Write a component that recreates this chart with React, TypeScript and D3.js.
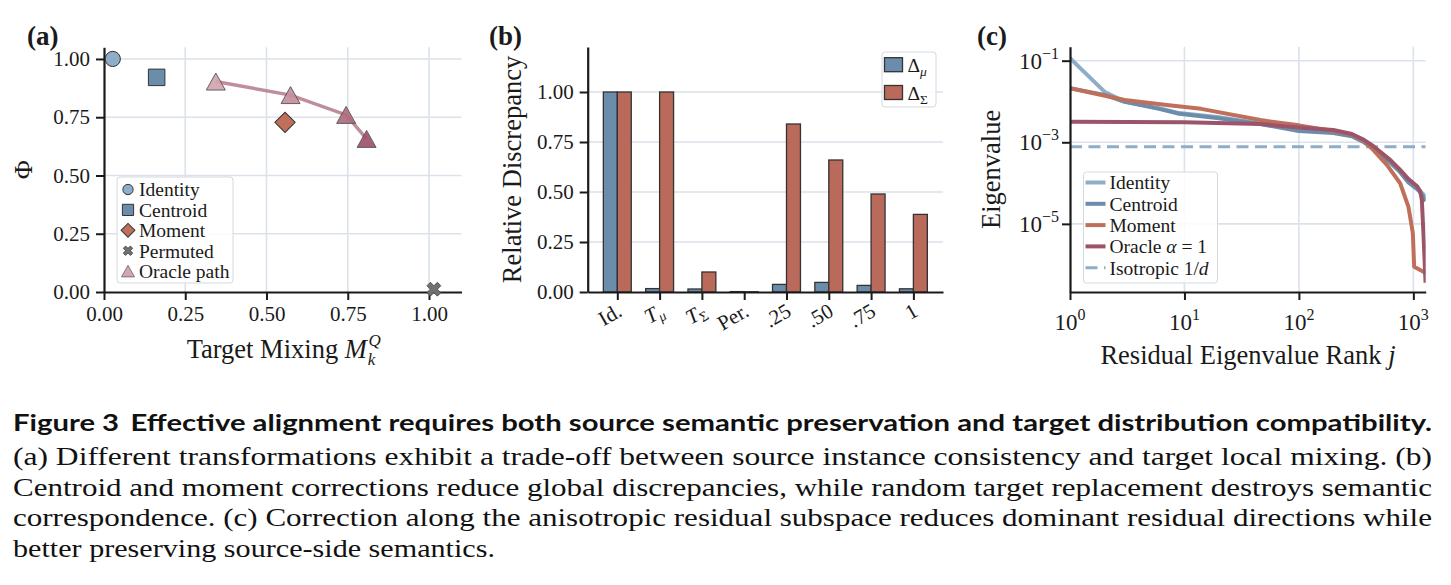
import React, { useEffect, useRef } from 'react';
import * as d3 from 'd3';

const SERIF = '"Liberation Serif", "Times New Roman", Times, serif';
const SANS = 'Lato, "Noto Sans", sans-serif';
const INK = '#1a1a1a';
const GRID = '#dbe2eb';

// (a) source consistency vs. target mixing
const pointNames = ['Identity', 'Centroid', 'Moment', 'Permuted'];
const pointMix = [0.027, 0.162, 0.557, 1.015];
const pointPhi = [1.0, 0.921, 0.728, 0.012];
const oracleMix = [0.344, 0.574, 0.745, 0.808];
const oraclePhi = [0.903, 0.845, 0.76, 0.657];
const tradeTicks = [0, 0.25, 0.5, 0.75, 1.0];

// (b) relative discrepancy per transformation
const barLabels = ['Id.', 'Tμ', 'TΣ', 'Per.', '.25', '.50', '.75', '1'];
const deltaMu = [1.0, 0.017, 0.015, 0.002, 0.038, 0.048, 0.033, 0.016];
const deltaSigma = [1.0, 1.0, 0.1, 0.001, 0.84, 0.66, 0.49, 0.388];
const discTicks = [0, 0.25, 0.5, 0.75, 1.0];

// (c) residual eigenvalue spectra
const identityRank = [1, 2, 3, 6, 9, 20, 46, 100, 200, 290, 370, 448, 627, 767, 906, 1073, 1146, 1282];
const identityEig = [0.115, 0.0174, 0.01, 0.0068, 0.0052, 0.0041, 0.0029, 0.002, 0.00175, 0.00145, 0.00105, 0.00072, 0.00034, 0.00019, 0.000108, 0.000076, 0.000063, 0.000046];
const centroidRank = [1, 2, 3, 6, 9, 20, 46, 100, 200, 290, 370, 448, 627, 767, 906, 1073, 1146, 1282];
const centroidEig = [0.0212, 0.0145, 0.0098, 0.0066, 0.005, 0.0039, 0.0028, 0.0019, 0.00168, 0.0014, 0.001, 0.0007, 0.00032, 0.000185, 0.000104, 0.000072, 0.00006, 0.000036];
const momentRank = [1, 3, 7, 14, 46, 100, 200, 290, 370, 448, 587, 767, 906, 990, 1016, 1225, 1282];
const momentEig = [0.0211, 0.0109, 0.0082, 0.0066, 0.0035, 0.0026, 0.0019, 0.00155, 0.00108, 0.00064, 0.00028, 0.000099, 0.000026, 0.0000059, 0.00000089, 0.00000067, 0.00000062];
const oracleRank = [1, 10, 46, 100, 200, 290, 370, 448, 627, 767, 906, 1073, 1146, 1186, 1225, 1278];
const oracleEig = [0.0032, 0.0031, 0.0028, 0.0023, 0.002, 0.0016, 0.00115, 0.0008, 0.00037, 0.00021, 0.000125, 0.000085, 0.000064, 0.000039, 0.0000059, 0.00000036];
const isotropicLevel = 1 / 1280;
const rankTicks = [1, 10, 100, 1000];
const eigTicks = [1e-1, 1e-3, 1e-5];

const captionTitle = 'Effective alignment requires both source semantic preservation and target distribution compatibility.';
const captionLines = [
  '(a) Different transformations exhibit a trade-off between source instance consistency and target local mixing. (b)',
  'Centroid and moment corrections reduce global discrepancies, while random target replacement destroys semantic',
  'correspondence. (c) Correction along the anisotropic residual subspace reduces dominant residual directions while',
  'better preserving source-side semantics.',
];

type Sel = d3.Selection<SVGGElement, unknown, null, undefined>;

function styleAxis(g: Sel, size: number) {
  g.attr('font-family', SERIF).attr('font-size', size);
  g.select('.domain').attr('stroke', INK).attr('stroke-width', 2.2);
  g.selectAll('.tick line').attr('stroke', INK).attr('stroke-width', 2);
  g.selectAll('.tick text').attr('fill', INK);
}

const triPath = (cx: number, cy: number, hw: number, hh: number) =>
  `M${cx},${cy - hh}L${cx + hw},${cy + hh}L${cx - hw},${cy + hh}Z`;

export default function App() {
  const ref = useRef<SVGSVGElement>(null);

  useEffect(() => {
    if (!ref.current) return;
    const svg = d3.select(ref.current);
    svg.selectAll('*').remove();

    svg.append('rect').attr('width', 1451).attr('height', 585).attr('fill', '#fff');

    const panelLabel = (x: number, s: string) =>
      svg.append('text').attr('x', x).attr('y', 45).attr('font-family', SERIF)
        .attr('font-weight', 700).attr('font-size', 27).attr('fill', INK).text(s);

    // ---------- (a) ----------
    const xA = d3.scaleLinear().domain([0, 1.1]).range([104, 461.5]);
    const yA = d3.scaleLinear().domain([0, 1.05]).range([292, 47.3]);
    const a = svg.append('g');

    a.append('g').selectAll('line').data(tradeTicks.slice(1)).join('line')
      .attr('x1', d => xA(d)).attr('x2', d => xA(d))
      .attr('y1', yA(0)).attr('y2', yA(1.05))
      .attr('stroke', GRID).attr('stroke-width', 1.6);
    a.append('g').selectAll('line').data(tradeTicks.slice(1)).join('line')
      .attr('x1', xA(0)).attr('x2', xA(1.1))
      .attr('y1', d => yA(d)).attr('y2', d => yA(d))
      .attr('stroke', GRID).attr('stroke-width', 1.6);

    const axA = a.append('g').attr('transform', `translate(0,${yA(0)})`)
      .call(d3.axisBottom(xA).tickValues(tradeTicks).tickFormat(d3.format('.2f'))
        .tickSize(8).tickPadding(6).tickSizeOuter(0));
    styleAxis(axA, 21);
    const ayA = a.append('g').attr('transform', `translate(${xA(0)},0)`)
      .call(d3.axisLeft(yA).tickValues(tradeTicks).tickFormat(d3.format('.2f'))
        .tickSize(8).tickPadding(6).tickSizeOuter(0));
    styleAxis(ayA, 21);

    // oracle path
    const idx = d3.range(oracleMix.length);
    a.append('path')
      .attr('d', d3.line<number>().x(i => xA(oracleMix[i])).y(i => yA(oraclePhi[i]))(idx))
      .attr('fill', 'none').attr('stroke', '#b47a8a').attr('stroke-width', 3.5)
      .attr('stroke-opacity', 0.85);
    const triFill = ['#d3a6b1', '#c48f9c', '#b06c7c', '#a0526a'];
    a.append('g').selectAll('path').data(idx).join('path')
      .attr('d', i => triPath(xA(oracleMix[i]), yA(oraclePhi[i]), 9.5, 8.5))
      .attr('fill', i => triFill[i]).attr('fill-opacity', 0.92)
      .attr('stroke', '#555').attr('stroke-width', 0.9);

    // single-transform markers
    const markerColor = ['#8fadc6', '#6b8cab', '#c0705a', '#707070'];
    const drawMarker = (g: Sel, kind: number, cx: number, cy: number, s: number) => {
      if (kind === 0) {
        g.append('circle').attr('cx', cx).attr('cy', cy).attr('r', 7.6 * s)
          .attr('fill', markerColor[0]).attr('stroke', '#333').attr('stroke-width', 1);
      } else if (kind === 1) {
        g.append('path').attr('d', d3.symbol(d3.symbolSquare, 272 * s * s)())
          .attr('transform', `translate(${cx},${cy})`)
          .attr('fill', markerColor[1]).attr('stroke', '#333').attr('stroke-width', 1);
      } else if (kind === 2) {
        g.append('path').attr('d', d3.symbol(d3.symbolSquare, 205 * s * s)())
          .attr('transform', `translate(${cx},${cy}) rotate(45)`)
          .attr('fill', markerColor[2]).attr('stroke', '#333').attr('stroke-width', 1);
      } else {
        g.append('path').attr('d', d3.symbol(d3.symbolCross, 120 * s * s)())
          .attr('transform', `translate(${cx},${cy}) rotate(45)`)
          .attr('fill', markerColor[3]).attr('stroke', '#444').attr('stroke-width', 0.8);
      }
    };
    pointNames.forEach((_, i) => drawMarker(a, i, xA(pointMix[i]), yA(pointPhi[i]), 1));

    // legend (a)
    a.append('rect').attr('x', 117).attr('y', 177).attr('width', 116).attr('height', 106)
      .attr('rx', 3).attr('fill', '#fff').attr('fill-opacity', 0.85)
      .attr('stroke', '#d3d9e0').attr('stroke-width', 1);
    const legA = [...pointNames, 'Oracle path'];
    legA.forEach((name, i) => {
      const cy = 189.5 + i * 20.4;
      if (i < 4) drawMarker(a, i, 128, cy, 0.68);
      else a.append('path').attr('d', triPath(128, cy, 6.5, 5.8))
        .attr('fill', triFill[0]).attr('stroke', '#666').attr('stroke-width', 0.8);
      a.append('text').attr('x', 139).attr('y', cy + 6.8).attr('font-family', SERIF)
        .attr('font-size', 19.5).attr('fill', INK).text(name);
    });

    a.append('text').attr('transform', `translate(32,${(yA(0) + yA(1.05)) / 2}) rotate(-90)`)
      .attr('text-anchor', 'middle').attr('font-family', SERIF).attr('font-size', 26)
      .attr('fill', INK).text('Φ');

    // x label with stacked sub/superscript on M
    const labA = a.append('text').attr('y', 358).attr('font-family', SERIF)
      .attr('font-size', 26.5).attr('fill', INK);
    labA.append('tspan').text('Target Mixing ');
    labA.append('tspan').attr('font-style', 'italic').text('M');
    const wA = (labA.node() as SVGTextElement).getComputedTextLength();
    labA.append('tspan').attr('font-style', 'italic').attr('font-size', 17)
      .attr('dx', 1).attr('dy', 7).text('k');
    labA.append('tspan').attr('font-style', 'italic').attr('font-size', 17)
      .attr('dx', -7).attr('dy', -19).text('Q');
    labA.attr('x', (xA(0) + xA(1.1)) / 2 - (wA + 12) / 2);
    panelLabel(27, '(a)');

    // ---------- (b) ----------
    const xB = d3.scaleLinear().domain([-0.7, 7.7]).range([587.7, 943]);
    const yB = d3.scaleLinear().domain([0, 1.225]).range([292, 47]);
    const b = svg.append('g');
    b.append('g').selectAll('line').data(discTicks.slice(1)).join('line')
      .attr('x1', xB(-0.7)).attr('x2', xB(7.7))
      .attr('y1', d => yB(d)).attr('y2', d => yB(d))
      .attr('stroke', GRID).attr('stroke-width', 1.6);

    const bw = 0.33;
    const muColor = '#6b8cab';
    const sigmaColor = '#b96a5b';
    b.append('g').selectAll('rect').data(deltaMu).join('rect')
      .attr('x', (_, i) => xB(i - bw)).attr('width', xB(bw) - xB(0))
      .attr('y', d => yB(d)).attr('height', d => yB(0) - yB(d))
      .attr('fill', muColor).attr('stroke', '#333').attr('stroke-width', 1.3);
    b.append('g').selectAll('rect').data(deltaSigma).join('rect')
      .attr('x', (_, i) => xB(i)).attr('width', xB(bw) - xB(0))
      .attr('y', d => yB(d)).attr('height', d => yB(0) - yB(d))
      .attr('fill', sigmaColor).attr('stroke', '#333').attr('stroke-width', 1.3);

    const axB = b.append('g').attr('transform', `translate(0,${yB(0)})`)
      .call(d3.axisBottom(xB).tickValues(d3.range(barLabels.length)).tickFormat(() => '')
        .tickSize(8).tickSizeOuter(0));
    styleAxis(axB, 21);
    const ayB = b.append('g').attr('transform', `translate(${xB(-0.7)},0)`)
      .call(d3.axisLeft(yB).tickValues(discTicks).tickFormat(d3.format('.2f'))
        .tickSize(8).tickPadding(6).tickSizeOuter(0));
    styleAxis(ayB, 21);

    b.append('g').selectAll('text').data(barLabels).join('text')
      .attr('transform', (_, i) => `translate(${xB(i) + 6},315) rotate(-30)`)
      .attr('text-anchor', 'end').attr('font-family', SERIF).attr('font-size', 21)
      .attr('fill', INK)
      .each(function (d) {
        const t = d3.select(this);
        if (d.length === 2 && d[0] === 'T') {
          t.append('tspan').attr('font-style', 'italic').text('T');
          t.append('tspan').attr('font-size', 14).attr('dy', 4)
            .attr('font-style', d[1] === 'μ' ? 'italic' : 'normal').text(d[1]);
        } else {
          t.text(d);
        }
      });

    b.append('text').attr('transform', `translate(521,${(yB(0) + yB(1.225)) / 2}) rotate(-90)`)
      .attr('text-anchor', 'middle').attr('font-family', SERIF).attr('font-size', 26.5)
      .attr('fill', INK).text('Relative Discrepancy');

    b.append('rect').attr('x', 882).attr('y', 52).attr('width', 54).attr('height', 55)
      .attr('rx', 3).attr('fill', '#fff').attr('fill-opacity', 0.85)
      .attr('stroke', '#d3d9e0').attr('stroke-width', 1);
    [['μ', muColor], ['Σ', sigmaColor]].forEach(([sub, col], i) => {
      const cy = 64.7 + i * 27.8;
      b.append('rect').attr('x', 884.5).attr('y', cy - 7).attr('width', 18).attr('height', 14)
        .attr('fill', col).attr('stroke', '#333').attr('stroke-width', 1.3);
      const t = b.append('text').attr('x', 907.5).attr('y', cy + 7).attr('font-family', SERIF)
        .attr('font-size', 19.5).attr('fill', INK);
      t.append('tspan').text('Δ');
      t.append('tspan').attr('font-size', 13.5).attr('dy', 4)
        .attr('font-style', sub === 'μ' ? 'italic' : 'normal').text(sub);
    });
    panelLabel(489, '(b)');

    // ---------- (c) ----------
    const xC = d3.scaleLog().domain([1, 1282]).range([1070, 1425.7]);
    const yC = d3.scaleLog().domain([Math.pow(10, -6.67), Math.pow(10, -0.657)]).range([292, 46.7]);
    const c = svg.append('g');
    c.append('defs').append('clipPath').attr('id', 'clip-c').append('rect')
      .attr('x', 1070).attr('y', 46.7).attr('width', 1425.7 - 1070).attr('height', 292 - 46.7);

    c.append('g').selectAll('line').data(rankTicks.slice(1)).join('line')
      .attr('x1', d => xC(d)).attr('x2', d => xC(d)).attr('y1', 292).attr('y2', 46.7)
      .attr('stroke', GRID).attr('stroke-width', 1.6);
    c.append('g').selectAll('line').data(eigTicks).join('line')
      .attr('x1', 1070).attr('x2', 1425.7).attr('y1', d => yC(d)).attr('y2', d => yC(d))
      .attr('stroke', GRID).attr('stroke-width', 1.6);

    const plot = c.append('g').attr('clip-path', 'url(#clip-c)');
    plot.append('line').attr('x1', 1070).attr('x2', 1425.7)
      .attr('y1', yC(isotropicLevel)).attr('y2', yC(isotropicLevel))
      .attr('stroke', '#8fadc6').attr('stroke-width', 3).attr('stroke-dasharray', '12,6.5');

    const series: { name: string; rank: number[]; eig: number[]; color: string }[] = [
      { name: 'Identity', rank: identityRank, eig: identityEig, color: '#8fadc6' },
      { name: 'Centroid', rank: centroidRank, eig: centroidEig, color: '#6b8cab' },
      { name: 'Moment', rank: momentRank, eig: momentEig, color: '#c0705a' },
      { name: 'Oracle', rank: oracleRank, eig: oracleEig, color: '#9c5568' },
    ];
    series.forEach(s => {
      const line = d3.line<number>().x(i => xC(s.rank[i])).y(i => yC(s.eig[i]));
      plot.append('path').attr('d', line(d3.range(s.rank.length)))
        .attr('fill', 'none').attr('stroke', s.color).attr('stroke-width', 4)
        .attr('stroke-linejoin', 'round');
    });

    const axC = c.append('g').attr('transform', 'translate(0,292)')
      .call(d3.axisBottom(xC).tickValues(rankTicks).tickFormat(() => '').tickSize(8).tickSizeOuter(0));
    styleAxis(axC, 21);
    const ayC = c.append('g').attr('transform', 'translate(1070,0)')
      .call(d3.axisLeft(yC).tickValues(eigTicks).tickFormat(() => '').tickSize(8).tickSizeOuter(0));
    styleAxis(ayC, 21);

    const pow10 = (g: Sel, x: number, y: number, exp: number, anchor: string) => {
      const t = g.append('text').attr('x', x).attr('y', y).attr('text-anchor', anchor)
        .attr('font-family', SERIF).attr('font-size', 23).attr('fill', INK);
      t.append('tspan').text('10');
      t.append('tspan').attr('font-size', 16).attr('dy', -10)
        .text(exp < 0 ? `\u2212${-exp}` : `${exp}`);
    };
    rankTicks.forEach(r => pow10(c, xC(r), 330, Math.round(Math.log10(r)), 'middle'));
    eigTicks.forEach(v => pow10(c, 1059, yC(v) + 8, Math.round(Math.log10(v)), 'end'));

    c.append('text').attr('transform', `translate(1000,169.4) rotate(-90)`)
      .attr('text-anchor', 'middle').attr('font-family', SERIF).attr('font-size', 26.5)
      .attr('fill', INK).text('Eigenvalue');
    const labC = c.append('text').attr('x', 1248).attr('y', 364).attr('text-anchor', 'middle')
      .attr('font-family', SERIF).attr('font-size', 26.5).attr('fill', INK);
    labC.append('tspan').text('Residual Eigenvalue Rank ');
    labC.append('tspan').attr('font-style', 'italic').text('j');

    c.append('rect').attr('x', 1083.5).attr('y', 172).attr('width', 134).attr('height', 111)
      .attr('rx', 3).attr('fill', '#fff').attr('fill-opacity', 0.85)
      .attr('stroke', '#d3d9e0').attr('stroke-width', 1);
    const legC = [...series.map(s => ({ name: s.name, color: s.color, dash: '' })),
      { name: 'Isotropic', color: '#8fadc6', dash: '12,6.5' }];
    legC.forEach((e, i) => {
      const cy = 182.5 + i * 21.3;
      c.append('line').attr('x1', 1085.5).attr('x2', 1105.5).attr('y1', cy).attr('y2', cy)
        .attr('stroke', e.color).attr('stroke-width', e.dash ? 3 : 4)
        .attr('stroke-dasharray', e.dash || null);
      const t = c.append('text').attr('x', 1109.5).attr('y', cy + 6.8).attr('font-family', SERIF)
        .attr('font-size', 19.5).attr('fill', INK);
      if (e.name === 'Oracle') {
        t.append('tspan').text('Oracle ');
        t.append('tspan').attr('font-style', 'italic').text('α');
        t.append('tspan').text(' = 1');
      } else if (e.name === 'Isotropic') {
        t.append('tspan').text('Isotropic 1/');
        t.append('tspan').attr('font-style', 'italic').text('d');
      } else {
        t.text(e.name);
      }
    });
    panelLabel(977, '(c)');

    // ---------- caption ----------
    const title = svg.append('text').attr('x', 13).attr('y', 431).attr('font-family', SANS)
      .attr('font-weight', 700).attr('font-size', 23).attr('fill', '#111')
      .attr('textLength', 1419).attr('lengthAdjust', 'spacingAndGlyphs');
    title.append('tspan').text('Figure 3');
    title.append('tspan').attr('dx', 9).text(captionTitle);

    const baselines = [465, 495.5, 526, 556.5];
    captionLines.forEach((line, i) => {
      svg.append('text').attr('x', 13).attr('y', baselines[i])
        .attr('font-family', SERIF).attr('font-size', 25.5).attr('fill', '#111')
        .attr('textLength', i < 3 ? 1419 : 482).attr('lengthAdjust', 'spacingAndGlyphs')
        .text(line);
    });
  }, []);

  return (
    <svg
      ref={ref}
      width={1451}
      height={585}
      style={{ position: 'fixed', left: 0, top: 0, display: 'block' }}
    />
  );
}
